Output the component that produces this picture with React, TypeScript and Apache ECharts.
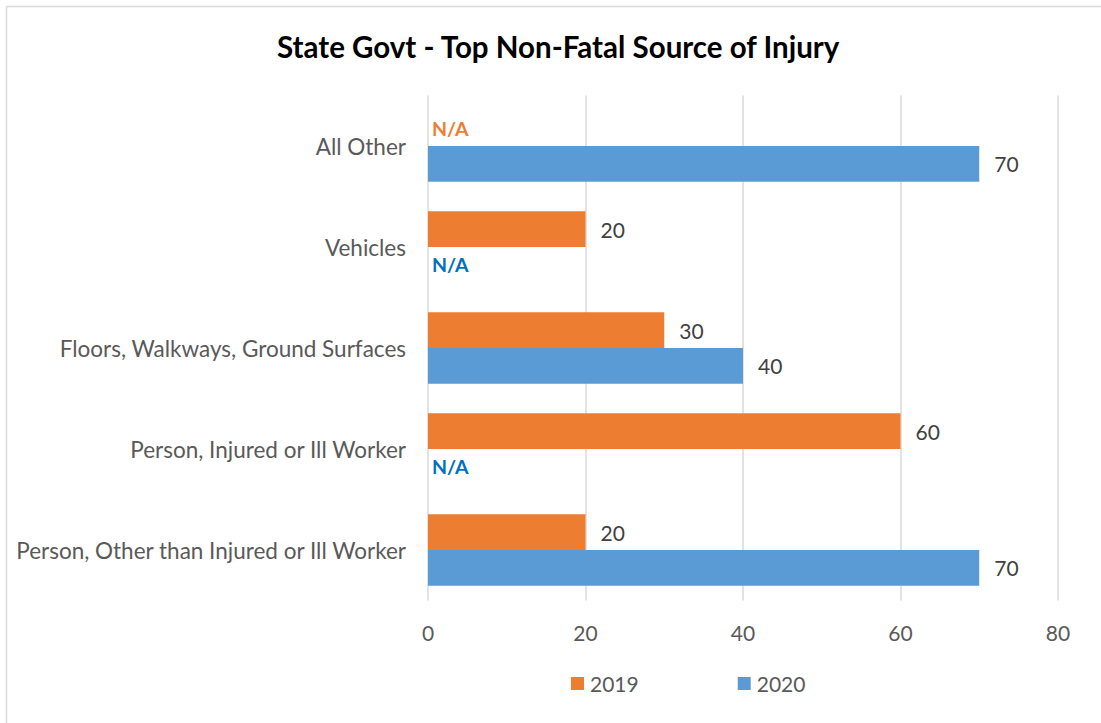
import React, { useEffect, useRef } from "react";
import * as echarts from "echarts";

const categories = [
  "Person, Other than Injured or Ill Worker",
  "Person, Injured or Ill Worker",
  "Floors, Walkways, Ground Surfaces",
  "Vehicles",
  "All Other",
];
const values2019: (number | null)[] = [20, 60, 30, 20, null];
const values2020: (number | null)[] = [70, null, 40, null, 70];
const xTicks = [0, 20, 40, 60, 80];

const FONT = "Lato, 'Open Sans', sans-serif";

export default function App() {
  const ref = useRef<HTMLDivElement>(null);
  useEffect(() => {
    document.body.style.margin = "0";
    const chart = echarts.init(ref.current!, undefined, { renderer: "svg" });
    const mk = (vals: (number | null)[], naColor: string) =>
      vals.map((v) =>
        v == null
          ? {
              value: 0,
              label: {
                formatter: "N/A",
                color: naColor,
                fontWeight: "bold",
                fontSize: 19.5,
                distance: 4,
              },
            }
          : { value: v }
      );
    chart.setOption({
      animation: false,
      title: {
        text: "State Govt - Top Non-Fatal Source of Injury",
        left: 272,
        top: 26,
        textStyle: { fontFamily: FONT, fontSize: 29.5, fontWeight: "bold", color: "#000" },
      },
      graphic: [
        { type: "line", shape: { x1: 6.5, y1: 6.5, x2: 1101, y2: 6.5 }, style: { stroke: "#D9D9D9", lineWidth: 1.5 } },
        { type: "line", shape: { x1: 6.5, y1: 6.5, x2: 6.5, y2: 723 }, style: { stroke: "#D9D9D9", lineWidth: 1.5 } },
      ],
      legend: {
        bottom: 24,
        left: 566,
        itemWidth: 13,
        itemHeight: 13,
        itemGap: 99,
        icon: "rect",
        textStyle: { fontFamily: FONT, fontSize: 21, color: "#595959", padding: [0, 0, 0, 1] },
        data: ["2019", "2020"],
      },
      grid: { left: 428, right: 43, top: 95.5, bottom: 122.5, containLabel: false },
      xAxis: {
        type: "value",
        min: 0,
        max: 80,
        interval: 20,
        axisLine: { show: false },
        axisTick: { show: false },
        splitLine: { lineStyle: { color: "#D9D9D9", width: 1.5 } },
        axisLabel: {
          fontFamily: FONT,
          fontSize: 21,
          color: "#595959",
          margin: 21,
          formatter: (v: number) => (xTicks.includes(v) ? String(v) : ""),
        },
      },
      yAxis: {
        type: "category",
        data: categories,
        axisLine: { show: false },
        axisTick: { show: false },
        axisLabel: { fontFamily: FONT, fontSize: 22.5, color: "#595959", margin: 22, padding: [0, 0, 6, 0] },
      },
      series: [
        {
          name: "2019",
          type: "bar",
          data: mk(values2019, "#ED7D31"),
          itemStyle: { color: "#ED7D31" },
          barGap: "0%",
          barCategoryGap: "29%",
          label: { show: true, position: "right", distance: 15, fontFamily: FONT, fontSize: 21, color: "#404040" },
        },
        {
          name: "2020",
          type: "bar",
          data: mk(values2020, "#0070C0"),
          itemStyle: { color: "#5B9BD5" },
          barGap: "0%",
          barCategoryGap: "29%",
          label: { show: true, position: "right", distance: 15, fontFamily: FONT, fontSize: 21, color: "#404040" },
        },
      ],
    });
    return () => chart.dispose();
  }, []);
  return <div ref={ref} style={{ width: 1101, height: 723 }} />;
}
